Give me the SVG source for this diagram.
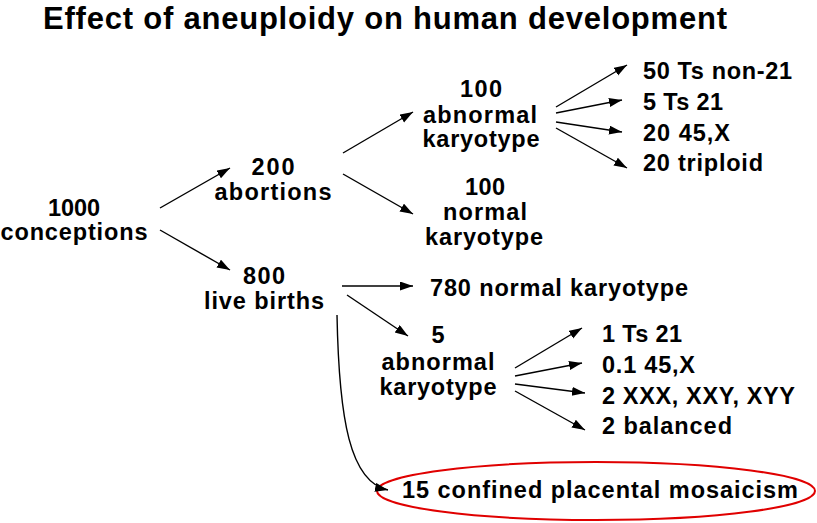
<svg xmlns="http://www.w3.org/2000/svg" width="817" height="523" viewBox="0 0 817 523">
<style>
text{font-family:"Liberation Sans",Arial,Helvetica,sans-serif;font-weight:bold;fill:#000;font-size:23.5px}
.c{text-anchor:middle}
.title{font-size:31px}
.ln{stroke:#000;stroke-width:1.4;fill:none;marker-end:url(#ah)}
</style>
<defs>
<marker id="ah" markerUnits="userSpaceOnUse" markerWidth="14" markerHeight="10" refX="13" refY="4.5" orient="auto">
<path d="M0,0 L13,4.5 L0,9 z" fill="#000"/>
</marker>
</defs>
<rect width="817" height="523" fill="#fff"/>
<text class="title" x="43" y="29" textLength="684" lengthAdjust="spacing">Effect of aneuploidy on human development</text>

<g id="conceptions">
<text class="c" x="74" y="216" textLength="52" lengthAdjust="spacing">1000</text>
<text class="c" x="74" y="240" textLength="147" lengthAdjust="spacing">conceptions</text>
</g>
<g id="abortions">
<text class="c" x="273" y="175" textLength="43" lengthAdjust="spacing">200</text>
<text class="c" x="273" y="200" textLength="117" lengthAdjust="spacing">abortions</text>
</g>
<g id="livebirths">
<text class="c" x="264" y="284" textLength="42" lengthAdjust="spacing">800</text>
<text class="c" x="264" y="309" textLength="120" lengthAdjust="spacing">live births</text>
</g>
<g id="ab-abnormal">
<text class="c" x="481" y="97" textLength="42" lengthAdjust="spacing">100</text>
<text class="c" x="480" y="123" textLength="114" lengthAdjust="spacing">abnormal</text>
<text class="c" x="481" y="147" textLength="117" lengthAdjust="spacing">karyotype</text>
</g>
<g id="ab-normal">
<text class="c" x="485" y="195" textLength="40" lengthAdjust="spacing">100</text>
<text class="c" x="485" y="220" textLength="84" lengthAdjust="spacing">normal</text>
<text class="c" x="484" y="245" textLength="118" lengthAdjust="spacing">karyotype</text>
</g>
<g id="ab-types">
<text x="643" y="79" textLength="149" lengthAdjust="spacing">50 Ts non-21</text>
<text x="643" y="110" textLength="80" lengthAdjust="spacing">5 Ts 21</text>
<text x="643" y="141" textLength="87" lengthAdjust="spacing">20 45,X</text>
<text x="643" y="171" textLength="120" lengthAdjust="spacing">20 triploid</text>
</g>
<g id="lb-normal">
<text x="430" y="296" textLength="258" lengthAdjust="spacing">780 normal karyotype</text>
</g>
<g id="lb-abnormal">
<text class="c" x="438" y="343" textLength="13" lengthAdjust="spacing">5</text>
<text class="c" x="438" y="370" textLength="113" lengthAdjust="spacing">abnormal</text>
<text class="c" x="438" y="395" textLength="117" lengthAdjust="spacing">karyotype</text>
</g>
<g id="lb-types">
<text x="602" y="342" textLength="80" lengthAdjust="spacing">1 Ts 21</text>
<text x="602" y="373" textLength="93" lengthAdjust="spacing">0.1 45,X</text>
<text x="602" y="404" textLength="193" lengthAdjust="spacing">2 XXX, XXY, XYY</text>
<text x="602" y="434" textLength="130" lengthAdjust="spacing">2 balanced</text>
</g>
<g id="cpm">
<ellipse cx="596" cy="491" rx="219" ry="29" fill="none" stroke="#e00000" stroke-width="2"/>
<text x="402" y="498" textLength="396" lengthAdjust="spacing">15 confined placental mosaicism</text>
</g>

<g id="connectors">
<line class="ln" x1="160" y1="208" x2="230" y2="168"/>
<line class="ln" x1="160" y1="230" x2="230" y2="270"/>
<line class="ln" x1="343" y1="153" x2="413" y2="112"/>
<line class="ln" x1="343" y1="174" x2="413" y2="214"/>
<line class="ln" x1="342" y1="286" x2="413" y2="286"/>
<line class="ln" x1="347" y1="295" x2="408" y2="336"/>
<line class="ln" x1="556" y1="107" x2="627" y2="65"/>
<line class="ln" x1="556" y1="113" x2="622" y2="100"/>
<line class="ln" x1="556" y1="122" x2="622" y2="132"/>
<line class="ln" x1="556" y1="128" x2="627" y2="168"/>
<line class="ln" x1="515" y1="368" x2="582" y2="328"/>
<line class="ln" x1="515" y1="376" x2="582" y2="363"/>
<line class="ln" x1="515" y1="384" x2="585" y2="393"/>
<line class="ln" x1="515" y1="391" x2="585" y2="430"/>
<path class="ln" d="M337,315 C339,420 350,482 388,490"/>
</g>
</svg>
